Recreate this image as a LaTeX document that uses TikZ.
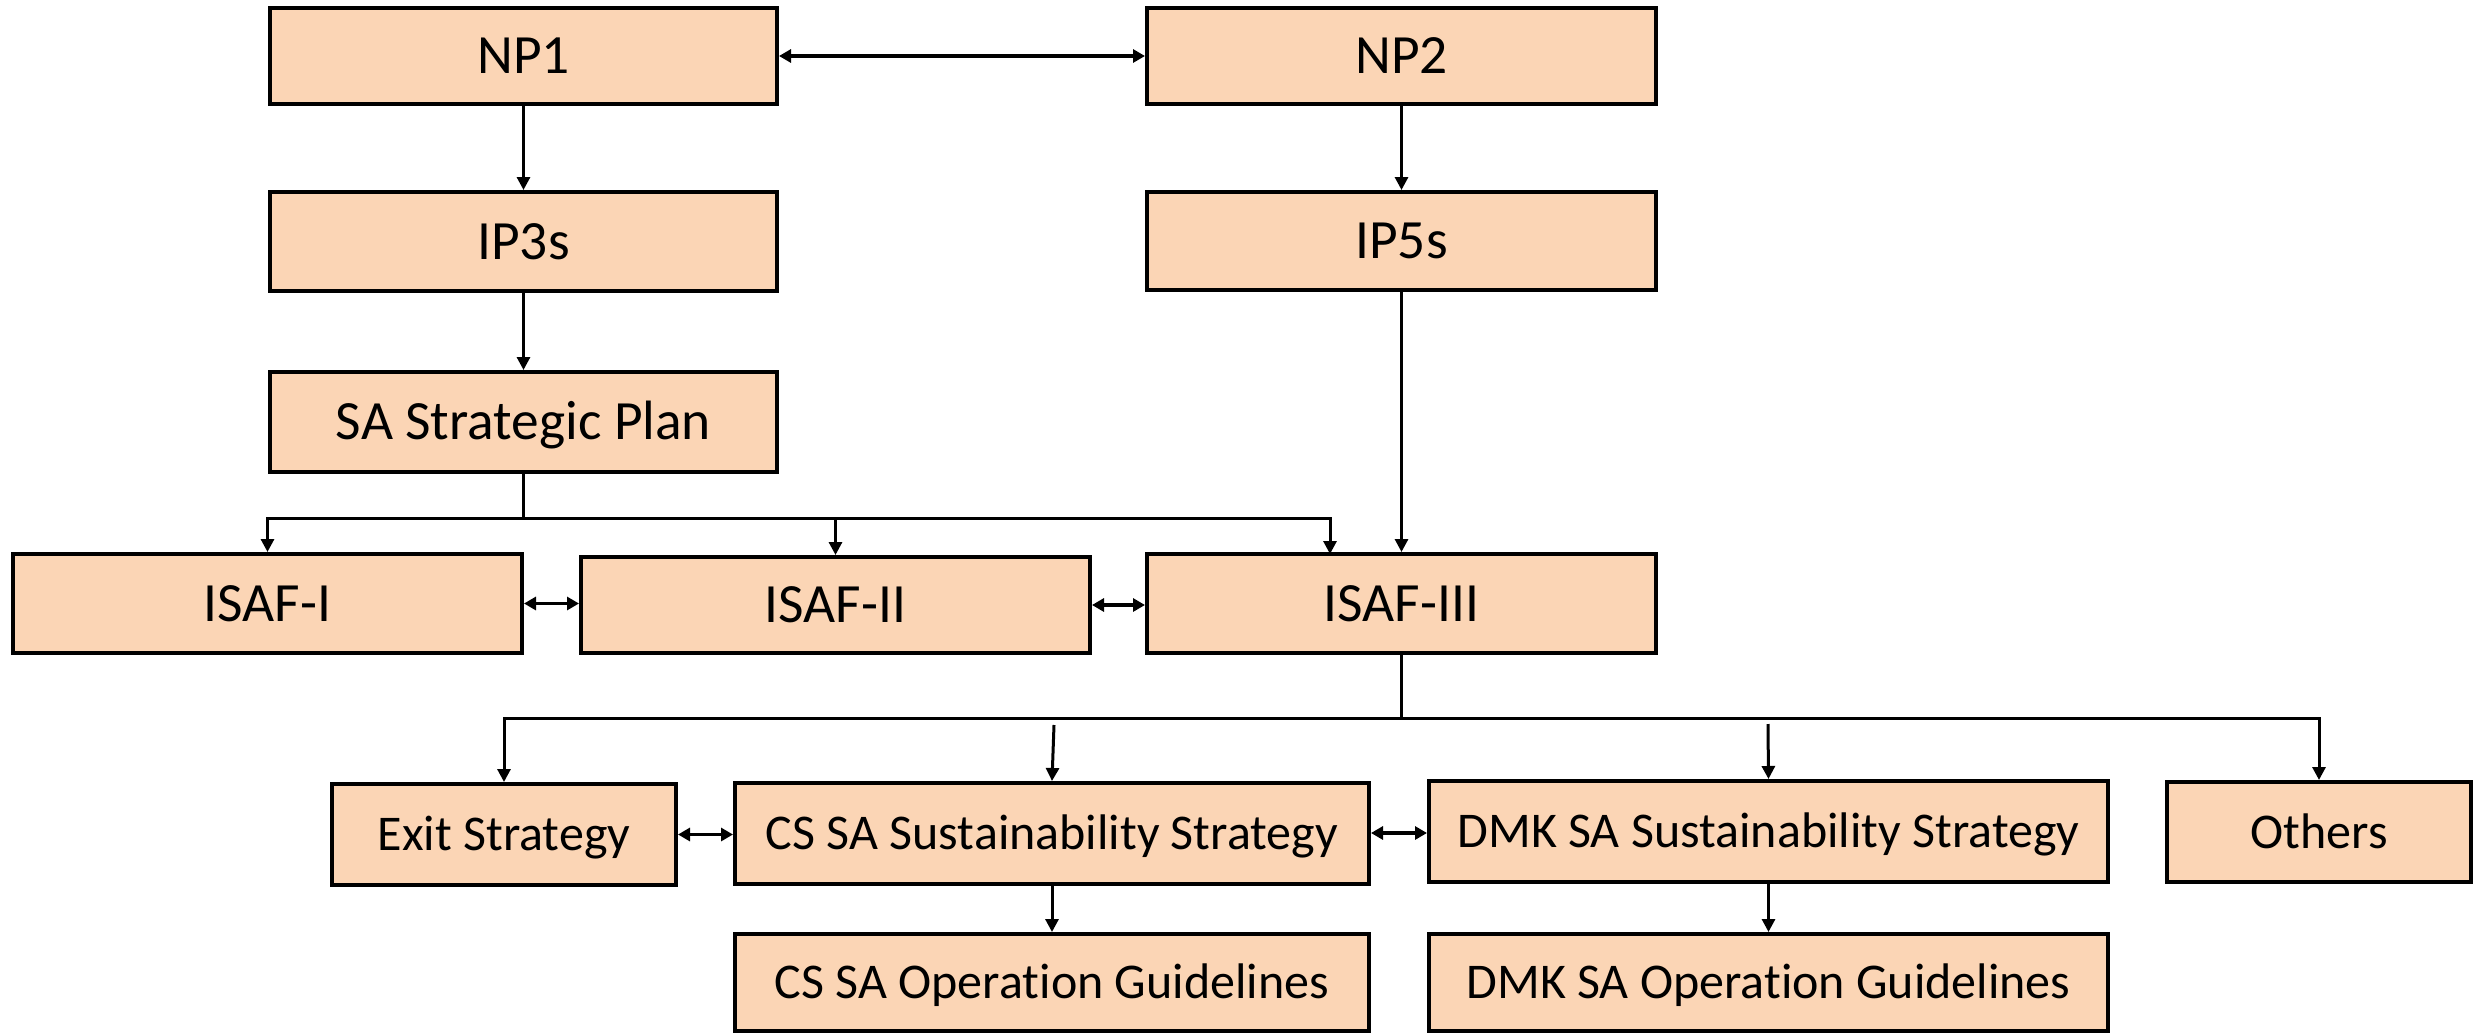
\documentclass[tikz,border=0pt]{standalone}
\usepackage{fontspec}
\setmainfont{Carlito}[RawFeature=-liga]
\usetikzlibrary{arrows.meta}
\definecolor{peach}{HTML}{FBD5B5}
\tikzset{
  box/.style={draw=black, line width=2pt, fill=peach, inner sep=0pt, align=center},
  big/.style={box, font=\fontsize{27.7}{30}\selectfont, text height=17.8pt, text depth=0pt},
  small/.style={box, font=\fontsize{25}{27}\selectfont, text height=16.1pt, text depth=0pt},
  arr/.style={line width=1.5pt, -{Triangle[length=6.5pt,width=6.5pt]}},
  darr/.style={line width=1.7pt, {Triangle[length=6pt,width=6.5pt]}-{Triangle[length=6pt,width=6.5pt]}},
  ln/.style={line width=1.6pt}
}
\begin{document}
\begin{tikzpicture}[x=0.5pt,y=-0.5pt]
\useasboundingbox (0,0) rectangle (2475,1033);
\node[big, minimum width=253.5pt, minimum height=48pt] (NP1) at (523.5,56) {NP1};
\node[big, minimum width=254.5pt, minimum height=48pt] (NP2) at (1401.5,56) {NP2};
\node[big, minimum width=253.5pt, minimum height=49.5pt] (IP3) at (523.5,241.5) {IP3s};
\node[big, minimum width=254.5pt, minimum height=49pt] (IP5) at (1401.5,241) {IP5s};
\node[big, minimum width=253.5pt, minimum height=50pt] (SAP) at (523.5,422) {SA Strategic Plan};
\node[big, minimum width=254.5pt, minimum height=49.5pt] (I1) at (267.5,603.5) {ISAF-I};
\node[big, minimum width=254.5pt, minimum height=48pt] (I2) at (835.5,605) {ISAF-II};
\node[big, minimum width=254.5pt, minimum height=49.5pt] (I3) at (1401.5,603.5) {ISAF-III};
\node[small, minimum width=172pt, minimum height=50.5pt] (EX) at (504,834.5) {Exit Strategy};
\node[small, minimum width=317pt, minimum height=50.5pt] (CSS) at (1052,833.5) {CS SA Sustainability Strategy};
\node[small, minimum width=339.5pt, minimum height=50.5pt] (DMS) at (1768.5,831.5) {DMK SA Sustainability Strategy};
\node[small, minimum width=152pt, minimum height=50pt] (OT) at (2319,832) {Others};
\node[small, minimum width=317pt, minimum height=48.5pt] (CSO) at (1052,982.5) {CS SA Operation Guidelines};
\node[small, minimum width=339.5pt, minimum height=48.5pt] (DMO) at (1768.5,982.5) {DMK SA Operation Guidelines};

\coordinate (b1) at (523.5,518);
\coordinate (i3in) at (1330,554);
\coordinate (b2) at (1401.5,718);
\coordinate (c1) at (1054,725);
\coordinate (d1) at (1768,724);

\draw[darr] (NP1.east) -- (NP1.east -| NP2.west);
\draw[arr] (NP1) -- (IP3);
\draw[arr] (IP3) -- (SAP);
\draw[arr] (NP2) -- (IP5);
\draw[arr] (IP5) -- (I3);
\draw[ln] (SAP.south) -- (b1);
\draw[arr] (b1) -| (I1.north);
\draw[arr] (b1) -| (I2.north);
\draw[arr] (b1) -| (i3in);
\draw[darr] (I1.east) -- (I1.east -| I2.west);
\draw[darr] (I2.east |- 0,605) -- (I3.west |- 0,605);
\draw[ln] (I3.south) -- (b2);
\draw[arr] (b2) -| (EX.north);
\draw[arr] (b2) -| (OT.north);
\draw[arr] (c1) -- (CSS.north);
\draw[arr] (d1) -- (DMS.north);
\draw[darr] (EX.east) -- (EX.east -| CSS.west);
\draw[darr] (CSS.east |- 0,833) -- (DMS.west |- 0,833);
\draw[arr] (CSS) -- (CSO);
\draw[arr] (DMS) -- (DMO);
\end{tikzpicture}
\end{document}
